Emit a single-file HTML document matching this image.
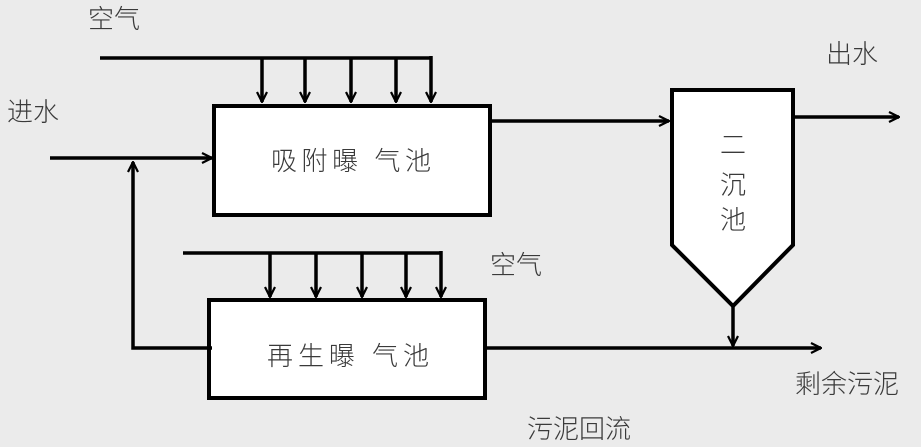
<!DOCTYPE html>
<html><head><meta charset="utf-8"><style>
html,body{margin:0;padding:0;background:#ebebeb;}
svg text{font-family:"Liberation Sans","Noto Sans CJK SC",sans-serif;fill:#3a3a3a;font-size:26px;font-weight:300;}
</style></head><body>
<svg width="921" height="442" viewBox="0 0 921 442" xmlns="http://www.w3.org/2000/svg">
<defs><marker id="a" viewBox="0 0 12 12" refX="11" refY="6" markerWidth="12" markerHeight="12" markerUnits="userSpaceOnUse" orient="auto"><path d="M1,1 L11,6 L1,11" fill="none" stroke="#000" stroke-width="2.2"/></marker></defs>
<g stroke="#000" stroke-width="4" fill="none">
<rect x="214" y="106" width="276" height="109" fill="#fff"/>
<rect x="209" y="300" width="276" height="98" fill="#fff"/>
<path d="M672,90 H793 V245 L733,306 L672,245 Z" fill="#fff"/>
</g>
<g stroke="#000" stroke-width="3.5" fill="none">
<path d="M100,58 H431"/>
<path d="M183,253 H441"/>
<path d="M50,158 H212" marker-end="url(#a)"/>
<path d="M212,348 H133 V162" marker-end="url(#a)"/>
<path d="M490,121 H669" marker-end="url(#a)"/>
<path d="M793,117 H899" marker-end="url(#a)"/>
<path d="M485,348 H821" marker-end="url(#a)"/>
<path d="M733,306 V346" marker-end="url(#a)"/>
<path d="M262,58 V102" marker-end="url(#a)"/>
<path d="M305,58 V102" marker-end="url(#a)"/>
<path d="M351,58 V102" marker-end="url(#a)"/>
<path d="M396,58 V102" marker-end="url(#a)"/>
<path d="M431,56 V102" marker-end="url(#a)"/>
<path d="M270,253 V297" marker-end="url(#a)"/>
<path d="M316,253 V297" marker-end="url(#a)"/>
<path d="M362,253 V297" marker-end="url(#a)"/>
<path d="M406,253 V297" marker-end="url(#a)"/>
<path d="M441,251 V297" marker-end="url(#a)"/>
</g>
<text x="88" y="28">空气</text>
<text x="7" y="121">进水</text>
<text x="826" y="63">出水</text>
<text x="271" y="170" textLength="160">吸附曝 气池</text>
<text x="267" y="365" textLength="162">再生曝 气池</text>
<text x="490" y="274">空气</text>
<text x="795" y="393">剩余污泥</text>
<text x="527" y="438">污泥回流</text>
<text x="733" y="154" text-anchor="middle" font-size="28">二</text>
<text x="733" y="194" text-anchor="middle" font-size="28">沉</text>
<text x="733" y="229" text-anchor="middle" font-size="28">池</text>
</svg>
</body></html>
